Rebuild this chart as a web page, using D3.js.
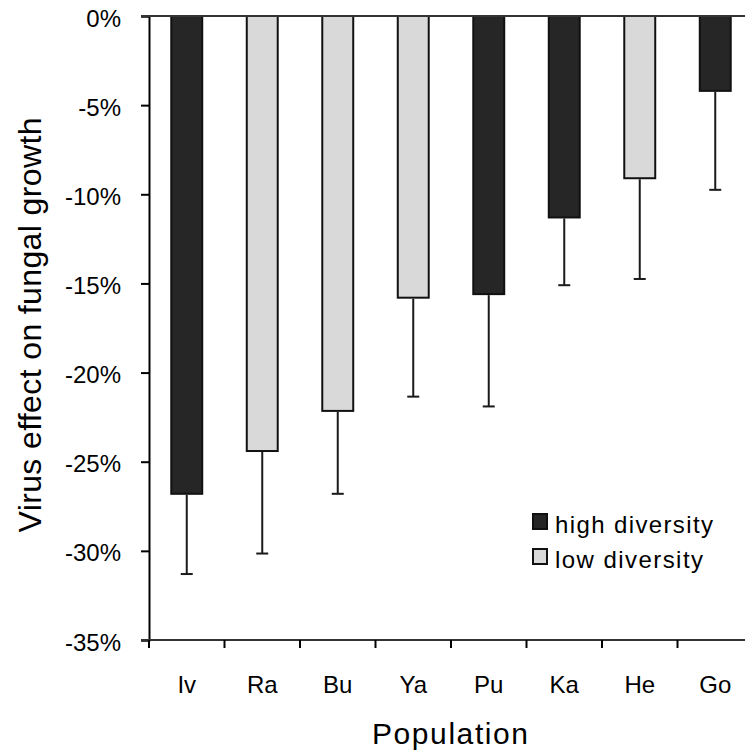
<!DOCTYPE html>
<html>
<head>
<meta charset="utf-8">
<script src="https://cdn.jsdelivr.net/npm/d3@7"></script>
<style>
  body { margin: 0; background: #fff; }
  text { font-family: "Liberation Sans", Arial, sans-serif; fill: #000; }
</style>
</head>
<body>
<div id="chart"></div>
<script>
// Data (percent)
var populations = ["Iv", "Ra", "Bu", "Ya", "Pu", "Ka", "He", "Go"];
var effects = [-26.8, -24.4, -22.15, -15.8, -15.6, -11.3, -9.1, -4.2];
var errors = [4.5, 5.75, 4.65, 5.55, 6.3, 3.8, 5.65, 5.55];
var diversity = ["high", "low", "low", "low", "high", "high", "low", "high"];
var yTicks = [0, -5, -10, -15, -20, -25, -30, -35];
var legendLabels = ["high diversity", "low diversity"];

var svgWidth = 745, svgHeight = 756;
var colors = {high: "#262626", low: "#d9d9d9"};

var svg = d3.select("#chart")
    .append("svg")
    .attr("width", svgWidth)
    .attr("height", svgHeight);

// Scales
var x = d3.scaleBand()
    .domain(populations)
    .range([149, 753])
    .paddingInner(0.59)
    .paddingOuter(0.295);
var y = d3.scaleLinear()
    .domain([0, -35])
    .range([16, 640]);

var rows = populations.map(function (p, i) {
    return {pop: p, val: effects[i], err: errors[i], div: diversity[i]};
});

// Bars
svg.selectAll(".bar")
    .data(rows)
    .enter().append("rect")
    .attr("class", "bar")
    .attr("x", d => x(d.pop))
    .attr("y", y(0))
    .attr("width", x.bandwidth())
    .attr("height", d => y(d.val) - y(0))
    .attr("fill", d => colors[d.div])
    .attr("stroke", "#111")
    .attr("stroke-width", 2);

// Error bars (downwards only)
var cap = 6;
var eb = svg.selectAll(".err")
    .data(rows)
    .enter().append("g")
    .attr("class", "err")
    .attr("stroke", "#1a1a1a")
    .attr("stroke-width", 2);
eb.append("line")
    .attr("x1", d => x(d.pop) + x.bandwidth() / 2)
    .attr("x2", d => x(d.pop) + x.bandwidth() / 2)
    .attr("y1", d => y(d.val) + 1)
    .attr("y2", d => y(d.val - d.err));
eb.append("line")
    .attr("x1", d => x(d.pop) + x.bandwidth() / 2 - cap)
    .attr("x2", d => x(d.pop) + x.bandwidth() / 2 + cap)
    .attr("y1", d => y(d.val - d.err))
    .attr("y2", d => y(d.val - d.err));

// Y axis
var yAxis = svg.append("g")
    .attr("transform", "translate(149,0)")
    .call(d3.axisLeft(y)
        .tickValues(yTicks)
        .tickSize(8)
        .tickPadding(20)
        .tickFormat(d => d + "%"));
yAxis.select(".domain").attr("stroke", "#000").attr("stroke-width", 2);
yAxis.selectAll(".tick line").attr("stroke", "#000").attr("stroke-width", 2);
yAxis.selectAll(".tick text")
    .attr("font-size", 24)
    .attr("dy", "0.42em")
    .style("font-family", "'Liberation Sans', Arial, sans-serif");

// Top line at 0% and x axis at -35%
svg.append("line")
    .attr("x1", 141).attr("x2", svgWidth)
    .attr("y1", y(0)).attr("y2", y(0))
    .attr("stroke", "#333").attr("stroke-width", 2);
svg.append("line")
    .attr("x1", 141).attr("x2", svgWidth)
    .attr("y1", y(-35)).attr("y2", y(-35))
    .attr("stroke", "#333").attr("stroke-width", 2);

// X ticks at the band edges
svg.selectAll(".xtick")
    .data(populations)
    .enter().append("line")
    .attr("x1", d => x(d) - x.step() * x.paddingOuter())
    .attr("x2", d => x(d) - x.step() * x.paddingOuter())
    .attr("y1", y(-35))
    .attr("y2", y(-35) + 8)
    .attr("stroke", "#000").attr("stroke-width", 2);

// X labels
svg.selectAll(".xlabel")
    .data(populations)
    .enter().append("text")
    .attr("x", d => x(d) + x.bandwidth() / 2)
    .attr("y", 693)
    .attr("text-anchor", "middle")
    .attr("font-size", 24)
    .text(d => d);

// Axis titles
svg.append("text")
    .attr("x", 450)
    .attr("y", 744)
    .attr("text-anchor", "middle")
    .attr("font-size", 30)
    .attr("textLength", 156)
    .attr("lengthAdjust", "spacing")
    .text("Population");

svg.append("text")
    .attr("transform", "translate(41,325) rotate(-90)")
    .attr("text-anchor", "middle")
    .attr("font-size", 32)
    .attr("textLength", 415)
    .attr("lengthAdjust", "spacing")
    .text("Virus effect on fungal growth");

// Legend
var legend = svg.selectAll(".legend")
    .data(legendLabels)
    .enter().append("g")
    .attr("class", "legend")
    .attr("transform", (d, i) => "translate(533," + (514 + i * 35) + ")");
legend.append("rect")
    .attr("width", 14)
    .attr("height", 15)
    .attr("fill", (d, i) => i === 0 ? colors.high : colors.low)
    .attr("stroke", "#111")
    .attr("stroke-width", 2);
legend.append("text")
    .attr("x", 22)
    .attr("y", 19)
    .attr("font-size", 24)
    .attr("textLength", (d, i) => i === 0 ? 158 : 148)
    .attr("lengthAdjust", "spacing")
    .text(d => d);
</script>
</body>
</html>
